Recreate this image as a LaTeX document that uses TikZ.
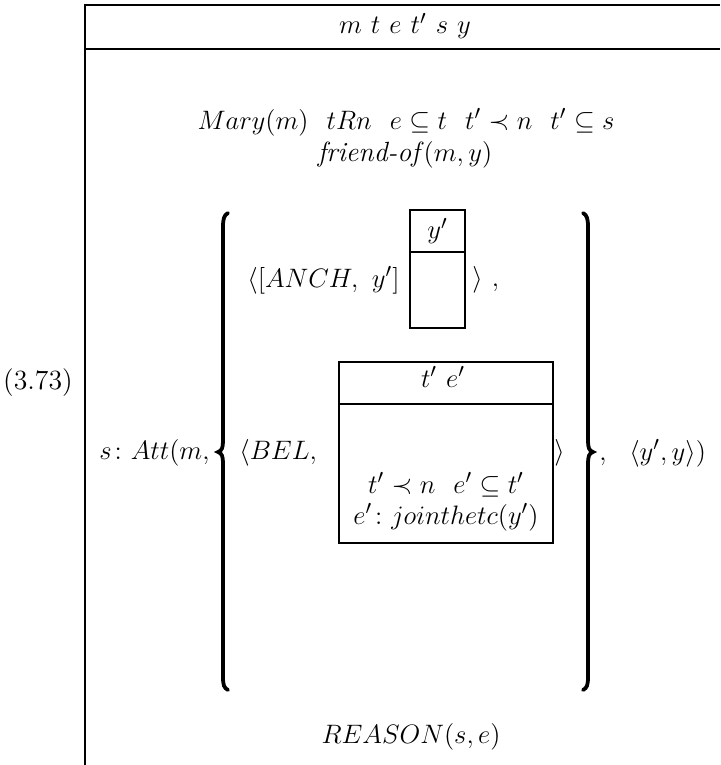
\documentclass[tikz,border=0pt]{standalone}
\usepackage{amsmath,amssymb}
\begin{document}
\begin{tikzpicture}[x=0.45pt,y=-0.45pt,
  txt/.style={inner sep=0pt,font=\fontsize{12.5}{15}\selectfont},
  frame/.style={line width=1.3pt},
  boxline/.style={line width=1.15pt},
  bracel/.style={line width=1.7pt,line cap=round}]
\useasboundingbox (0,0) rectangle (720,765);
% outer DRS frame
\draw[frame] (85,765) -- (85,5) -- (720,5);
\draw[frame] (85,49) -- (720,49);
\node[txt] (hdr) at (405,26) {$m\ t\ e\ t'\ s\ y$};
\node[txt] (cond1) at (406,122) {$Mary(m)\ \ tRn\ \ e\subseteq t\ \ t'\prec n\ \ t'\subseteq s$};
\node[txt] (cond2) at (405,155) {\textit{friend-of}$(m,y)$};
\node[txt] (num) at (38,383) {(3.73)};
\node[txt,anchor=east] (att) at (210,453) {$s\colon Att(m,$};
% left brace
\draw[bracel] (228,213) .. controls (224,215) and (223,219) .. (223,227) -- (223,441)
  .. controls (223,447) and (222,451) .. (218,452) .. controls (222,453) and (223,457) .. (223,463)
  -- (223,677) .. controls (223,685) and (224,688) .. (228,690);
% right brace
\draw[bracel] (583,213) .. controls (587,215) and (588,219) .. (588,227) -- (588,441)
  .. controls (588,447) and (589,451) .. (593,452) .. controls (589,453) and (588,457) .. (588,463)
  -- (588,677) .. controls (588,685) and (587,688) .. (583,690);
% ANCH row
\node[txt,anchor=east] (anch) at (400,280) {$\langle[ANCH,\ y']$};
\draw[boxline] (410,210) rectangle (465,328);
\draw[boxline] (410,252) -- (465,252);
\node[txt] (yp) at (437.5,231) {$y'$};
\node[txt,anchor=west] (anchend) at (472,280) {$\rangle\ ,$};
% BEL row
\node[txt,anchor=west] (bel) at (239,453) {$\langle BEL,$};
\draw[boxline] (339,362) rectangle (553,543);
\draw[boxline] (339,404) -- (553,404);
\node[txt] (tehdr) at (443,377) {$t'\ e'$};
\node[txt] (tec1) at (446,485) {$t'\prec n\ \ e'\subseteq t'$};
\node[txt] (tec2) at (446,517) {$e'\colon jointhetc(y')$};
\node[txt,anchor=west] (belend) at (554,453) {$\rangle$};
\node[txt,anchor=west] (tail) at (599,453) {$,\ \ \langle y',y\rangle)$};
\node[txt] (reason) at (411,737) {$REASON(s,e)$};
\end{tikzpicture}
\end{document}
